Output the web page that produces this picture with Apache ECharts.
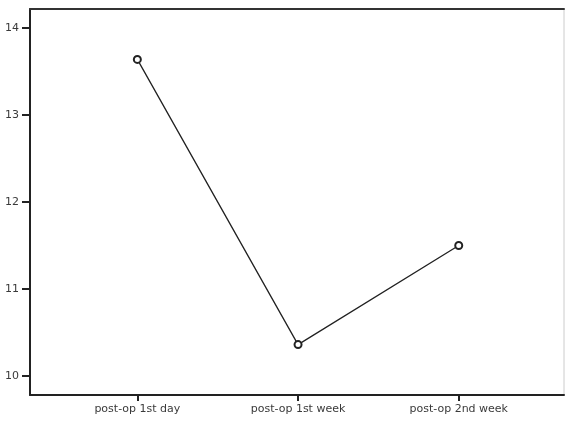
<!DOCTYPE html>
<html>
<head>
<meta charset="utf-8">
<script src="https://cdn.jsdelivr.net/npm/echarts@6/dist/echarts.min.js"></script>
<style>
  html, body { margin: 0; padding: 0; background: #fff; }
  #main { width: 565px; height: 421px; }
</style>
</head>
<body>
<div id="main"></div>
<script>
// categories on x, mean values on y
const categories = ['post-op 1st day', 'post-op 1st week', 'post-op 2nd week'];
const values = [13.64, 10.36, 11.5];
const xTicks = [0, 1, 2];
const yTicks = [10, 11, 12, 13, 14];

const chart = echarts.init(document.getElementById('main'), null, { renderer: 'canvas' });

const points = values.map((v, i) => [i, v]);
const labelFont = { fontFamily: 'DejaVu Sans', fontSize: 11, color: '#3a3a3a' };

const option = {
  animation: false,
  grid: {
    left: 30, right: 1, top: 9, bottom: 26,
    show: true, borderColor: '#ccc', borderWidth: 1
  },
  xAxis: [
    {
      type: 'value',
      min: -0.668, max: 2.655,
      splitLine: { show: false },
      axisLine: { show: true, onZero: false, lineStyle: { color: '#222', width: 2 } },
      axisTick: { show: true, length: 6, customValues: xTicks, lineStyle: { color: '#222', width: 2 } },
      axisLabel: Object.assign({
        margin: 9,
        customValues: xTicks,
        formatter: v => categories[Math.round(v)] || ''
      }, labelFont)
    },
    {
      type: 'value', position: 'top',
      min: -0.668, max: 2.655,
      axisLine: { show: true, onZero: false, lineStyle: { color: '#333', width: 2 } },
      axisTick: { show: false }, axisLabel: { show: false },
      splitLine: { show: false }
    }
  ],
  yAxis: {
    type: 'value',
    min: 9.78, max: 14.22,
    splitLine: { show: false },
    axisLine: { show: true, onZero: false, lineStyle: { color: '#222', width: 2 } },
    axisTick: { show: true, length: 8, lineStyle: { color: '#222', width: 2 }, customValues: yTicks },
    axisLabel: Object.assign({ margin: 11, customValues: yTicks }, labelFont)
  },
  series: [{
    type: 'line',
    data: points,
    symbol: 'emptyCircle',
    symbolSize: 7,
    itemStyle: { color: '#222', borderWidth: 1.5 },
    lineStyle: { color: '#222', width: 1.3 }
  }]
};

chart.setOption(option);
</script>
</body>
</html>
